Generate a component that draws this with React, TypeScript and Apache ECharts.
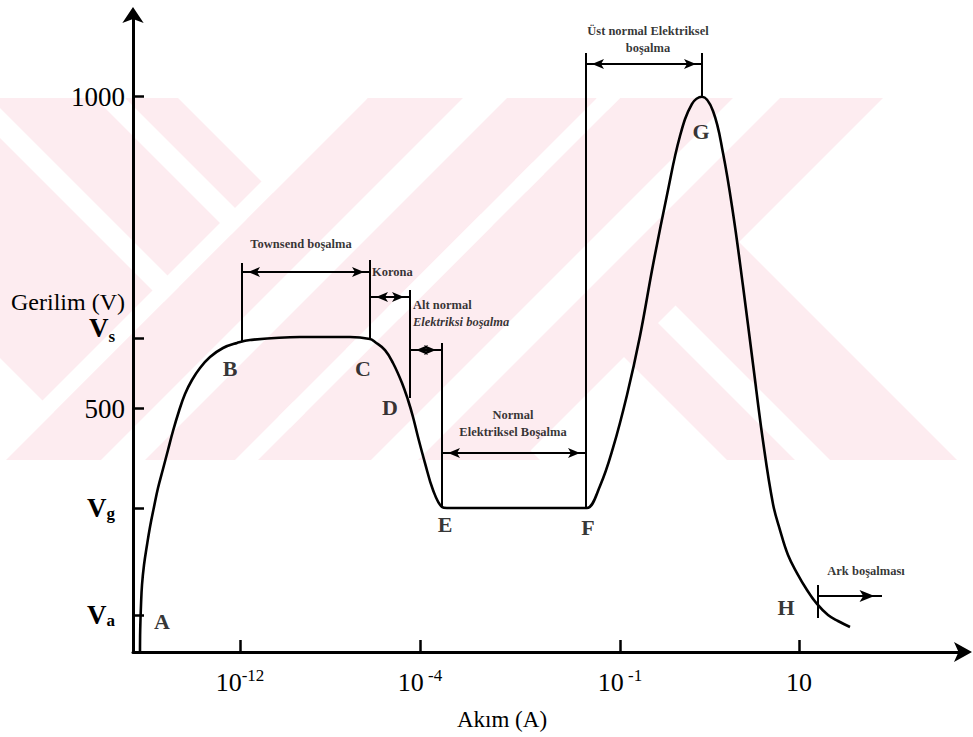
import React, { useEffect, useRef } from 'react';
import * as echarts from 'echarts';

const SERIF = '"Liberation Serif", "Times New Roman", Times, serif';

// ---- axes (current axis is schematic / not to scale; voltage in V) ----
const X_MIN = 0;
const X_MAX = 830;
const V_MIN = 110;
const V_MAX = 1131;

const X_TICKS = [107, 287, 487, 666];
const X_TICK_BASES = ['10', '10', '10', '10'];
const X_TICK_EXPONENTS = ['-12', ' -4', ' -1', ''];

const Y_TICKS = [169, 341, 500, 613, 1000];
const Y_TICK_LABELS = ['Va', 'Vg', '500', 'Vs', '1000'];

// ---- discharge characteristic curve ----
const CURVE_X = [
  7, 7.2, 8, 9, 11, 14, 17, 21, 25, 30, 35, 40, 46, 52, 59, 67, 77, 90, 104, 117,
  167, 217, 237, 242, 252, 260, 269, 275, 280, 285, 292, 300, 309, 314,
  450, 454, 467, 480, 494, 507, 520, 534, 547, 559, 569,
  580, 590, 600, 610, 620, 630, 640, 647, 655, 664, 674, 684, 695, 705, 717,
];
const CURVE_V = [
  110, 145.3, 185.4, 217.4, 249.5, 281.5, 310.4, 342.5, 372.9, 403.3, 433.8, 464.2, 496.3, 523.6, 546, 565.3, 582.8, 597.3, 605.3, 610.1,
  614.9, 614.9, 611.7, 606.9, 594, 573.2, 541.2, 513.9, 486.7, 454.6, 412.9, 369.7, 342.4, 340.8,
  340.8, 340.8, 376.1, 437, 521.9, 616.5, 730.3, 842.5, 937.1, 988.4, 1000,
  977.1, 909.8, 813.6, 696.6, 571.6, 448.2, 347.2, 305.5, 265.5, 236.6, 209.4, 187, 169.3, 159.7, 150.1,
];

// ---- region boundaries (vertical lines) ----
const BOUNDARY_X = [109, 237, 277, 309, 453, 569, 685];
const BOUNDARY_TOP = [733.5, 738.3, 690.2, 605.3, 1070, 1070, 217.4];
const BOUNDARY_BOTTOM = [608.5, 611.7, 517.1, 340.8, 340.8, 999.5, 164.5];

// ---- region range arrows ----
const RANGE_FROM = [109, 237, 277, 309, 453, 685];
const RANGE_TO = [237, 277, 309, 453, 569, 749];
const RANGE_V = [719.1, 679, 594.1, 429, 1052.5, 199.8];
const RANGE_DOUBLE = [true, true, true, true, true, false];

// ---- point labels ----
const POINT_NAMES = ['A', 'B', 'C', 'D', 'E', 'F', 'G', 'H'];
const POINT_X = [29, 97, 230, 257, 312, 455, 568, 653];
const POINT_V = [158.1, 565.2, 565.2, 501.1, 313.6, 308.8, 943.5, 182.1];

// ---- region names ----
const REGION_TEXTS = [
  'Townsend boşalma',
  'Korona',
  'Alt normal\nElektriksi boşalma',
  'Normal\nElektriksel Boşalma',
  'Üst normal Elektriksel\nboşalma',
  'Ark boşalması',
];
const REGION_TEXT_X = [168, 239, 280, 380, 515, 733];
const REGION_TEXT_V = [764, 719.1, 651.8, 476.2, 1091.7, 239.8];

const PINK = '#fdecf0';
const WM_TOP = 98;
const WM_BOTTOM = 460;

function band(a: number, b: number, dir: number, fill: string) {
  const d = (WM_BOTTOM - WM_TOP) * dir;
  return {
    type: 'polygon',
    z: -10,
    silent: true,
    shape: { points: [[a, WM_TOP], [b, WM_TOP], [b + d, WM_BOTTOM], [a + d, WM_BOTTOM]] },
    style: { fill, stroke: 'none' },
  };
}

function buildOption() {
  const watermark = [
    band(-260, -40, 1, PINK),
    band(-10, 178, 1, PINK),
    band(365, 595, 1, PINK),
    band(95, 125, 1, '#fff'),
    band(433, 468, 1, '#fff'),
    band(345, 368, -1, '#fff'),
    band(368, 597, -1, PINK),
    band(620, 883, -1, PINK),
    band(463, 507, -1, '#fff'),
    band(733, 780, -1, '#fff'),
    band(597, 620, -1, '#fff'),
  ];

  const titles = [
    {
      type: 'text',
      x: 11,
      y: 302,
      style: { text: 'Gerilim (V)', fontSize: 24, fontFamily: SERIF, fill: '#000', align: 'left', verticalAlign: 'middle' },
    },
    {
      type: 'text',
      x: 502,
      y: 719,
      style: { text: 'Akım (A)', fontSize: 23, fontFamily: SERIF, fill: '#000', align: 'center', verticalAlign: 'middle' },
    },
  ];

  const boundaryLines = BOUNDARY_X.map((x, i) => [
    { coord: [x, BOUNDARY_TOP[i]] },
    { coord: [x, BOUNDARY_BOTTOM[i]] },
  ]);

  const rangeArrows = RANGE_FROM.map((x1, i) => {
    const size = RANGE_DOUBLE[i] ? [7.5, 12] : [9, 15];
    return [
      { coord: [x1, RANGE_V[i]], symbol: RANGE_DOUBLE[i] ? 'arrow' : 'none', symbolSize: size, symbolOffset: [0, '50%'] },
      { coord: [RANGE_TO[i], RANGE_V[i]], symbol: 'arrow', symbolSize: size, symbolOffset: [0, '50%'] },
    ];
  });

  const findIdx = (arr: number[], v: number) => arr.findIndex((t) => Math.abs(t - v) < 1e-6);

  const regionData = REGION_TEXTS.map((t, i) => ({
    value: [REGION_TEXT_X[i], REGION_TEXT_V[i]],
    label: { align: i === 1 || i === 2 ? 'left' : 'center' },
  }));

  return {
    animation: false,
    backgroundColor: '#ffffff',
    textStyle: { fontFamily: SERIF, color: '#000' },
    grid: { left: 133, right: 10, top: 15, bottom: 85, containLabel: false, outerBoundsMode: 'none' },
    graphic: { elements: [...watermark, ...titles] },
    xAxis: {
      type: 'value',
      min: X_MIN,
      max: X_MAX,
      axisLine: {
        show: true,
        onZero: false,
        symbol: ['none', 'arrow'],
        symbolSize: [15, 18],
        symbolOffset: [0, 9],
        lineStyle: { color: '#000', width: 3 },
      },
      axisTick: { show: true, inside: true, length: 12, customValues: X_TICKS, lineStyle: { color: '#000', width: 2.5 } },
      axisLabel: {
        show: true,
        customValues: X_TICKS,
        margin: 15,
        formatter: (v: number) => {
          const i = findIdx(X_TICKS, v);
          if (i < 0) return '';
          const e = X_TICK_EXPONENTS[i];
          return e ? `{b|${X_TICK_BASES[i]}}{e|${e}}` : `{b|${X_TICK_BASES[i]}}`;
        },
        rich: {
          b: { fontSize: 26, fontFamily: SERIF, color: '#000', lineHeight: 30 },
          e: { fontSize: 17, fontFamily: SERIF, color: '#000', lineHeight: 17, verticalAlign: 'top' },
        },
      },
      splitLine: { show: false },
    },
    yAxis: {
      type: 'value',
      min: V_MIN,
      max: V_MAX,
      axisLine: {
        show: true,
        onZero: false,
        symbol: ['none', 'arrow'],
        symbolSize: [16, 16],
        symbolOffset: [0, 8],
        lineStyle: { color: '#000', width: 3 },
      },
      axisTick: { show: true, inside: true, length: 11, customValues: Y_TICKS, lineStyle: { color: '#000', width: 2.5 } },
      axisLabel: {
        show: true,
        customValues: Y_TICKS,
        margin: 8,
        formatter: (v: number) => {
          const i = findIdx(Y_TICKS, v);
          if (i < 0) return '';
          const s = Y_TICK_LABELS[i];
          if (s[0] === 'V') {
            const sub = s.slice(1);
            return sub === 's' ? `{vu|V}{su|${sub}}` : `{v|V}{s|${sub}}`;
          }
          return `{n|${s}}`;
        },
        rich: {
          n: { fontSize: 27, fontFamily: SERIF, color: '#000' },
          v: { fontSize: 27, fontWeight: 'bold', fontFamily: SERIF, color: '#000', lineHeight: 28 },
          s: { fontSize: 17, fontWeight: 'bold', fontFamily: SERIF, color: '#000', lineHeight: 17, verticalAlign: 'bottom', padding: [0, 10, 0, 0] },
          vu: { fontSize: 27, fontWeight: 'bold', fontFamily: SERIF, color: '#000', lineHeight: 28, padding: [0, 0, 20, 0] },
          su: { fontSize: 17, fontWeight: 'bold', fontFamily: SERIF, color: '#000', lineHeight: 17, verticalAlign: 'bottom', padding: [0, 10, 7, 0] },
        },
      },
      splitLine: { show: false },
    },
    series: [
      {
        type: 'line',
        data: CURVE_X.map((x, i) => [x, CURVE_V[i]]),
        smooth: 0.4,
        symbol: 'none',
        silent: true,
        z: 5,
        lineStyle: { color: '#000', width: 2.6 },
        markLine: {
          silent: true,
          symbol: ['none', 'none'],
          label: { show: false },
          emphasis: { disabled: true },
          lineStyle: { color: '#000', width: 2, type: 'solid' },
          data: [...boundaryLines, ...rangeArrows],
        },
      },
      {
        type: 'scatter',
        silent: true,
        z: 6,
        symbolSize: 1,
        itemStyle: { color: 'rgba(0,0,0,0)' },
        data: POINT_X.map((x, i) => ({ value: [x, POINT_V[i]], name: POINT_NAMES[i] })),
        label: {
          show: true,
          position: 'inside',
          formatter: '{b}',
          fontSize: 22,
          fontWeight: 'bold',
          fontFamily: SERIF,
          color: '#000',
        },
      },
      {
        type: 'scatter',
        silent: true,
        z: 6,
        symbolSize: 1,
        itemStyle: { color: 'rgba(0,0,0,0)' },
        data: regionData,
        label: {
          show: true,
          position: 'inside',
          formatter: (p: any) => {
            const lines = REGION_TEXTS[p.dataIndex].split('\n');
            return lines
              .map((ln, k) => (p.dataIndex === 2 && k === 1 ? `{i|${ln}}` : `{t|${ln}}`))
              .join('\n');
          },
          rich: {
            t: { fontSize: 12.5, fontWeight: 'bold', fontFamily: SERIF, color: '#000', lineHeight: 17 },
            i: { fontSize: 12.5, fontWeight: 'bold', fontStyle: 'italic', fontFamily: SERIF, color: '#000', lineHeight: 17 },
          },
        },
      },
    ],
  };
}

export default function App() {
  const ref = useRef<HTMLDivElement>(null);
  useEffect(() => {
    if (!ref.current) return;
    const chart = echarts.init(ref.current, undefined, { renderer: 'svg' });
    chart.setOption(buildOption() as any);
    return () => chart.dispose();
  }, []);
  return (
    <div
      ref={ref}
      style={{ position: 'fixed', left: 0, top: 0, width: 973, height: 737, background: '#fff' }}
    />
  );
}
